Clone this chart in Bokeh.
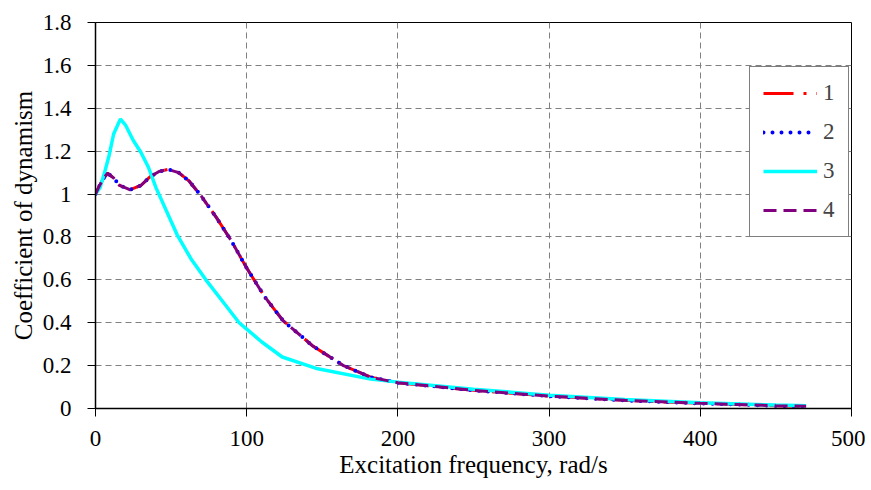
from bokeh.plotting import figure
from bokeh.models import FixedTicker, CustomJSTickFormatter, Range1d, Legend, LegendItem
from bokeh.embed import file_html
from bokeh.resources import INLINE

# Excitation frequency, rad/s
freq_a = [0, 2, 5, 8, 12, 16, 23, 30, 36, 42, 48, 55, 62, 70, 80, 90, 100, 112, 124,
          144, 164, 182, 200, 250, 300, 350, 400, 450, 470]
curve1 = [1.0, 1.03, 1.07, 1.097, 1.075, 1.04, 1.02, 1.04, 1.08, 1.105, 1.115, 1.1, 1.06,
          0.99, 0.89, 0.78, 0.655, 0.52, 0.41, 0.29, 0.2, 0.146, 0.12, 0.085, 0.058,
          0.038, 0.024, 0.013, 0.01]
curve2 = [1.0, 1.03, 1.07, 1.097, 1.075, 1.04, 1.02, 1.04, 1.08, 1.105, 1.115, 1.1, 1.06,
          0.99, 0.89, 0.78, 0.655, 0.52, 0.41, 0.29, 0.2, 0.146, 0.12, 0.085, 0.058,
          0.038, 0.024, 0.013, 0.01]
curve4 = [1.0, 1.03, 1.07, 1.097, 1.075, 1.04, 1.02, 1.04, 1.08, 1.105, 1.115, 1.1, 1.06,
          0.99, 0.89, 0.78, 0.655, 0.52, 0.41, 0.29, 0.2, 0.146, 0.12, 0.085, 0.058,
          0.038, 0.024, 0.013, 0.01]
freq_b = [0, 3, 6, 9, 12, 16.5, 20, 25, 30, 35, 40, 47, 54, 63, 73, 84, 95, 100, 110,
          123.5, 147, 182, 200, 250, 300, 350, 400, 450, 470]
curve3 = [1.0, 1.03, 1.1, 1.18, 1.28, 1.35, 1.32, 1.25, 1.195, 1.125, 1.03, 0.92, 0.81,
          0.7, 0.6, 0.5, 0.4, 0.37, 0.31, 0.24, 0.185, 0.137, 0.123, 0.09, 0.062, 0.042,
          0.027, 0.016, 0.013]

x_ticks = [0, 100, 200, 300, 400, 500]
y_ticks = [0, 0.2, 0.4, 0.6, 0.8, 1.0, 1.2, 1.4, 1.6, 1.8]
labels = ["1", "2", "3", "4"]

FONT = "Liberation Serif"

p = figure(width=865, height=488, output_backend="svg", toolbar_location=None,
           x_range=Range1d(0, 500), y_range=Range1d(0, 1.8),
           min_border_left=95, min_border_right=14, min_border_top=22, min_border_bottom=80)
p.outline_line_color = "black"
p.outline_line_width = 1

for ax in (p.xaxis[0], p.yaxis[0]):
    ax.major_label_text_font = FONT
    ax.major_label_text_font_size = "23px"
    ax.major_label_text_color = "black"
    ax.axis_label_text_font = FONT
    ax.axis_label_text_font_size = "25px"
    ax.axis_label_text_font_style = "normal"
    ax.axis_label_text_color = "black"
    ax.axis_line_color = "black"
    ax.axis_line_width = 1.5
    ax.major_tick_line_color = "black"
    ax.major_tick_out = 8
    ax.major_tick_in = 0
    ax.minor_tick_line_color = None

p.xaxis.ticker = FixedTicker(ticks=x_ticks)
p.yaxis.ticker = FixedTicker(ticks=y_ticks)
p.yaxis.formatter = CustomJSTickFormatter(code="return String(Math.round(tick*10)/10);")
p.xaxis.axis_label = "Excitation frequency, rad/s"
p.yaxis.axis_label = "Coefficient of dynamism"
p.xaxis.major_label_standoff = 14
p.xaxis.axis_label_standoff = 2
p.yaxis.major_label_standoff = 16
p.yaxis.axis_label_standoff = 3

for g in (p.xgrid[0], p.ygrid[0]):
    g.grid_line_color = "#808080"
    g.grid_line_dash = "6 4"
    g.grid_line_width = 1

r1 = p.line(freq_a, curve1, line_color="#ff0000", line_width=3, line_dash="30 10 3 10")
r2 = p.line(freq_a, curve2, line_color="#0000ff", line_width=4, line_dash="0 9", line_cap="round")
r3 = p.line(freq_b, curve3, line_color="#00ffff", line_width=3.5)
r4 = p.line(freq_a, curve4, line_color="#800080", line_width=3, line_dash="13 7")

legend = Legend(items=[LegendItem(label=labels[i], renderers=[r]) for i, r in enumerate([r1, r2, r3, r4])],
                location=(654, 171))
legend.border_line_color = "black"
legend.border_line_width = 1
legend.label_text_font = FONT
legend.label_text_font_size = "23px"
legend.glyph_width = 54
legend.glyph_height = 26
legend.label_height = 26
legend.label_width = 11
legend.spacing = 13
legend.padding = 13
legend.margin = 0
legend.label_standoff = 6
legend.background_fill_alpha = 1
p.add_layout(legend)

open("out.html", "w").write(file_html(p, INLINE))
